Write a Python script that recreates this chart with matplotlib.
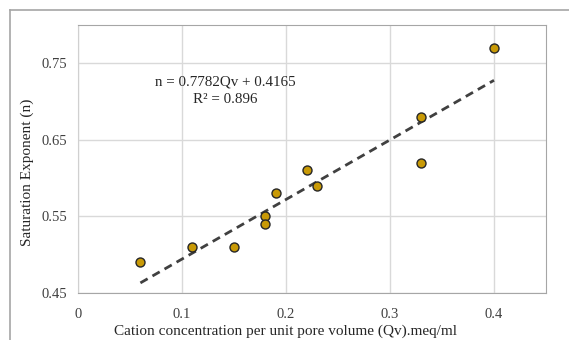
import numpy as np
import matplotlib.pyplot as plt
from matplotlib.lines import Line2D

plt.rcParams['font.family'] = ['Liberation Serif', 'DejaVu Serif']

# Data
qv = [0.06, 0.11, 0.15, 0.18, 0.18, 0.19, 0.22, 0.23, 0.33, 0.33, 0.40]
n_exp = [0.49, 0.51, 0.51, 0.55, 0.54, 0.58, 0.61, 0.59, 0.68, 0.62, 0.77]
slope, intercept = 0.7782, 0.4165
x_ticks = [0, 0.1, 0.2, 0.3, 0.4]
y_ticks = [0.45, 0.55, 0.65, 0.75]

fig = plt.figure(figsize=(5.69, 3.4), dpi=100)
ax = fig.add_axes([78 / 569, 47 / 340, 468 / 569, 268 / 340])

# trend line over the data range
xl = np.array([min(qv), max(qv)])
ax.plot(xl, slope * xl + intercept, linestyle=(0, (3, 2)), color='#404040', lw=2, zorder=2)
ax.scatter(qv, n_exp, s=42, color='#C99A06', edgecolors='#262626', linewidths=1, zorder=3)

ax.set_xlim(0, 0.45)
ax.set_ylim(0.45, 0.80)
ax.set_xticks(x_ticks)
ax.set_xticklabels(['0', '0.1', '0.2', '0.3', '0.4'])
ax.set_yticks(y_ticks)
ax.grid(True, color='#D9D9D9', lw=1)
ax.set_axisbelow(True)
ax.tick_params(length=0, labelsize=10.5, labelcolor='#404040')
ax.tick_params(axis='x', pad=11)
ax.tick_params(axis='y', pad=8)

for s in ['top', 'right']:
    ax.spines[s].set_color('#A6A6A6')
ax.spines['left'].set_color('#D0D0D0')
ax.spines['bottom'].set_color('#A6A6A6')

ax.text(0.142, 0.726, f'n = {slope}Qv + {intercept}', ha='center', va='center', fontsize=10.8, color='#262626')
ax.text(0.142, 0.703, 'R² = 0.896', ha='center', va='center', fontsize=10.8, color='#262626')

fig.text(285 / 569, 1 - 331 / 340, 'Cation concentration per unit pore volume (Qv).meq/ml',
         ha='center', va='center', fontsize=11, color='#262626')
fig.text(27 / 569, 1 - 172 / 340, 'Saturation Exponent (n)', rotation=90,
         ha='center', va='center', fontsize=11, color='#262626')

# outer chart border
fig.add_artist(Line2D([10 / 569, 1], [1 - 9.5 / 340] * 2, color='#A6A6A6', lw=1.2))
fig.add_artist(Line2D([10 / 569] * 2, [0, 1 - 9.5 / 340], color='#A6A6A6', lw=1.2))

fig.savefig('out.png', dpi=100)
